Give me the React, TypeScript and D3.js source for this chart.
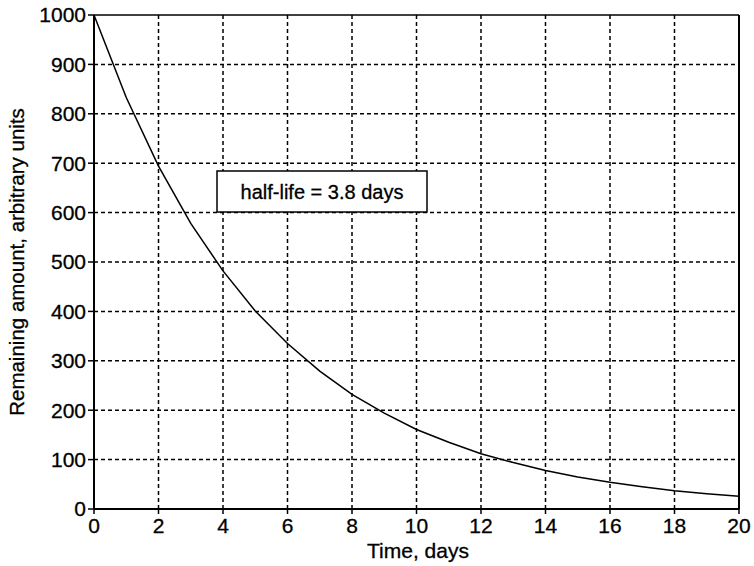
import React from "react";
import * as d3 from "d3";

const days = [0, 1, 2, 3, 4, 5, 6, 7, 8, 9, 10, 11, 12, 13, 14, 15, 16, 17, 18, 19, 20];
const remaining = [1000, 833, 694, 578, 482, 401, 335, 279, 232, 194, 161, 135, 112, 94, 78, 65, 54, 45, 37, 31, 26];
const xTicks = [0, 2, 4, 6, 8, 10, 12, 14, 16, 18, 20];
const yTicks = [0, 100, 200, 300, 400, 500, 600, 700, 800, 900, 1000];
const annotation = "half-life = 3.8 days";
const xTitle = "Time, days";
const yTitle = "Remaining amount, arbitrary units";

export default function App() {
  const W = 754, H = 566;
  const left = 94, right = 739, top = 15, bottom = 509;
  const x = d3.scaleLinear().domain([0, 20]).range([left, right]);
  const y = d3.scaleLinear().domain([0, 1000]).range([bottom, top]);
  const line = d3.line<number>().x((_, i) => x(days[i])).y((d) => y(d));
  const font = "'Liberation Sans', Arial, Helvetica, sans-serif";
  const textStyle = { stroke: "#000", strokeWidth: 0.3 };
  return (
    <svg width={W} height={H} style={{ position: "absolute", left: 0, top: 0, background: "#fff" }} fontFamily={font}>
      <rect width={W} height={H} fill="#fff" />
      {xTicks.slice(1, -1).map((t) => (
        <line key={"gx" + t} x1={x(t)} x2={x(t)} y1={top} y2={bottom} stroke="#000" strokeWidth={1.5} strokeDasharray="4,3" />
      ))}
      {yTicks.slice(1, -1).map((t) => (
        <line key={"gy" + t} x1={left} x2={right} y1={y(t)} y2={y(t)} stroke="#000" strokeWidth={1.5} strokeDasharray="4,3" />
      ))}
      <line x1={left} x2={right} y1={top} y2={top} stroke="#000" strokeWidth={1.5} />
      <line x1={right} x2={right} y1={top} y2={bottom} stroke="#000" strokeWidth={2} />
      <line x1={left} x2={left} y1={top} y2={bottom} stroke="#000" strokeWidth={2} />
      <line x1={left} x2={right} y1={bottom} y2={bottom} stroke="#000" strokeWidth={2} />
      {yTicks.map((t) => (
        <g key={"yt" + t}>
          <line x1={left - 6} x2={left} y1={y(t)} y2={y(t)} stroke="#000" strokeWidth={1.5} />
          <text x={left - 8} y={y(t)} dy="0.35em" textAnchor="end" fontSize={21} fill="#000" style={textStyle}>{t}</text>
        </g>
      ))}
      {xTicks.map((t) => (
        <g key={"xt" + t}>
          <line x1={x(t)} x2={x(t)} y1={bottom} y2={bottom + 5} stroke="#000" strokeWidth={1.5} />
          <text x={x(t)} y={bottom + 24} textAnchor="middle" fontSize={21} fill="#000" style={textStyle}>{t}</text>
        </g>
      ))}
      <path d={line(remaining) || ""} fill="none" stroke="#000" strokeWidth={1.5} />
      <rect x={217} y={171} width={210} height={41} fill="#fff" stroke="#000" strokeWidth={1.5} />
      <text x={322} y={192} dy="0.35em" textAnchor="middle" fontSize={20} fill="#000" style={textStyle}>{annotation}</text>
      <text x={418} y={558} textAnchor="middle" fontSize={21} fill="#000" style={textStyle}>{xTitle}</text>
      <text transform={`translate(24, ${(top + bottom) / 2}) rotate(-90)`} textAnchor="middle" fontSize={20.5} fill="#000" style={textStyle}>{yTitle}</text>
    </svg>
  );
}
